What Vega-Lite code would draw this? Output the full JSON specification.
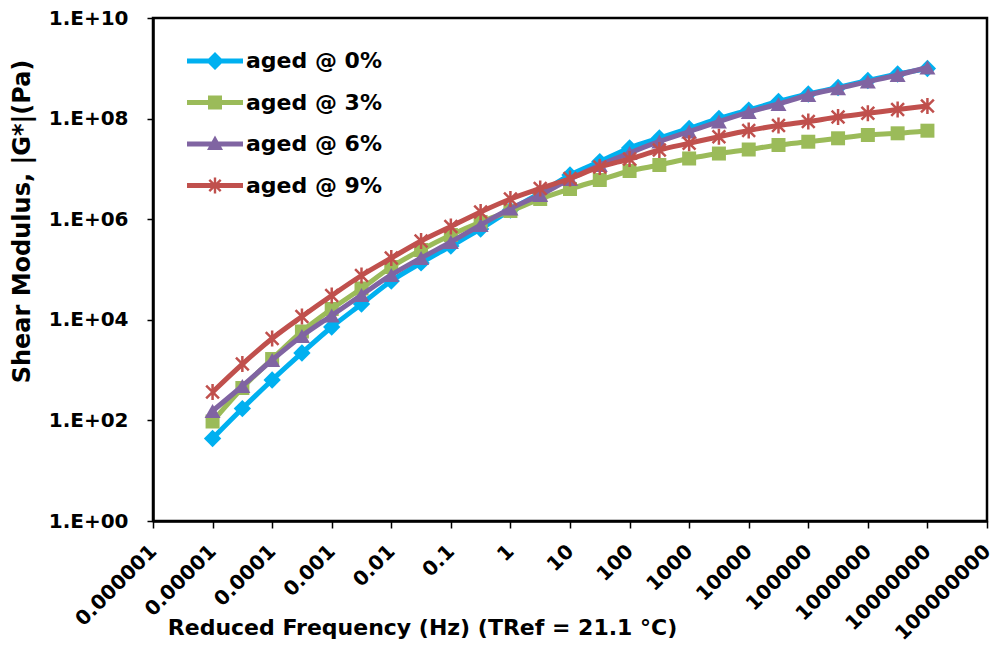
{
  "$schema": "https://vega.github.io/schema/vega-lite/v6.json",
  "autosize": "none",
  "width": 834,
  "height": 503,
  "padding": {"left": 153, "top": 18, "right": 8, "bottom": 124},
  "background": "white",
  "config": {
    "font": "DejaVu Sans",
    "view": {"stroke": "black", "strokeWidth": 2.5},
    "axis": {
      "labelFont": "DejaVu Sans",
      "labelFontWeight": "bold",
      "labelFontSize": 20,
      "labelColor": "black",
      "titleFont": "DejaVu Sans",
      "titleFontWeight": "bold",
      "titleFontSize": 22,
      "titleColor": "black",
      "domainColor": "black",
      "domainWidth": 2.5,
      "tickColor": "black",
      "tickWidth": 1.5,
      "grid": false
    },
    "legend": {
      "labelFont": "DejaVu Sans",
      "labelFontWeight": "bold",
      "labelFontSize": 22,
      "labelColor": "black"
    }
  },
  "data": {
    "values": [
      {"f": 0.00001, "G": 43.7, "s": "aged @ 0%"},
      {"f": 0.00003162, "G": 172, "s": "aged @ 0%"},
      {"f": 0.0001, "G": 636, "s": "aged @ 0%"},
      {"f": 0.0003162, "G": 2190, "s": "aged @ 0%"},
      {"f": 0.001, "G": 7190, "s": "aged @ 0%"},
      {"f": 0.003162, "G": 20600, "s": "aged @ 0%"},
      {"f": 0.01, "G": 59100, "s": "aged @ 0%"},
      {"f": 0.03162, "G": 135000, "s": "aged @ 0%"},
      {"f": 0.1, "G": 293000, "s": "aged @ 0%"},
      {"f": 0.3162, "G": 639000, "s": "aged @ 0%"},
      {"f": 1, "G": 1520000, "s": "aged @ 0%"},
      {"f": 3.162, "G": 3320000, "s": "aged @ 0%"},
      {"f": 10, "G": 7570000, "s": "aged @ 0%"},
      {"f": 31.62, "G": 14000000, "s": "aged @ 0%"},
      {"f": 100, "G": 26000000, "s": "aged @ 0%"},
      {"f": 316.2, "G": 41100000, "s": "aged @ 0%"},
      {"f": 1000, "G": 63600000, "s": "aged @ 0%"},
      {"f": 3162, "G": 100500000, "s": "aged @ 0%"},
      {"f": 10000, "G": 148000000, "s": "aged @ 0%"},
      {"f": 31620, "G": 219000000, "s": "aged @ 0%"},
      {"f": 100000, "G": 308000000, "s": "aged @ 0%"},
      {"f": 316200, "G": 415000000, "s": "aged @ 0%"},
      {"f": 1000000, "G": 572000000, "s": "aged @ 0%"},
      {"f": 3162000, "G": 770000000, "s": "aged @ 0%"},
      {"f": 10000000, "G": 991000000, "s": "aged @ 0%"},

      {"f": 0.00001, "G": 95.1, "s": "aged @ 3%"},
      {"f": 0.00003162, "G": 441, "s": "aged @ 3%"},
      {"f": 0.0001, "G": 1660, "s": "aged @ 3%"},
      {"f": 0.0003162, "G": 5850, "s": "aged @ 3%"},
      {"f": 0.001, "G": 16400, "s": "aged @ 3%"},
      {"f": 0.003162, "G": 41900, "s": "aged @ 3%"},
      {"f": 0.01, "G": 112000, "s": "aged @ 3%"},
      {"f": 0.03162, "G": 244000, "s": "aged @ 3%"},
      {"f": 0.1, "G": 485000, "s": "aged @ 3%"},
      {"f": 0.3162, "G": 880000, "s": "aged @ 3%"},
      {"f": 1, "G": 1455000, "s": "aged @ 3%"},
      {"f": 3.162, "G": 2520000, "s": "aged @ 3%"},
      {"f": 10, "G": 3980000, "s": "aged @ 3%"},
      {"f": 31.62, "G": 6010000, "s": "aged @ 3%"},
      {"f": 100, "G": 9080000, "s": "aged @ 3%"},
      {"f": 316.2, "G": 11960000, "s": "aged @ 3%"},
      {"f": 1000, "G": 16100000, "s": "aged @ 3%"},
      {"f": 3162, "G": 20200000, "s": "aged @ 3%"},
      {"f": 10000, "G": 24300000, "s": "aged @ 3%"},
      {"f": 31620, "G": 29900000, "s": "aged @ 3%"},
      {"f": 100000, "G": 34700000, "s": "aged @ 3%"},
      {"f": 316200, "G": 40600000, "s": "aged @ 3%"},
      {"f": 1000000, "G": 47200000, "s": "aged @ 3%"},
      {"f": 3162000, "G": 51000000, "s": "aged @ 3%"},
      {"f": 10000000, "G": 57500000, "s": "aged @ 3%"},

      {"f": 0.00001, "G": 154, "s": "aged @ 6%"},
      {"f": 0.00003162, "G": 483, "s": "aged @ 6%"},
      {"f": 0.0001, "G": 1590, "s": "aged @ 6%"},
      {"f": 0.0003162, "G": 4760, "s": "aged @ 6%"},
      {"f": 0.001, "G": 12200, "s": "aged @ 6%"},
      {"f": 0.003162, "G": 31100, "s": "aged @ 6%"},
      {"f": 0.01, "G": 77800, "s": "aged @ 6%"},
      {"f": 0.03162, "G": 169000, "s": "aged @ 6%"},
      {"f": 0.1, "G": 352000, "s": "aged @ 6%"},
      {"f": 0.3162, "G": 767000, "s": "aged @ 6%"},
      {"f": 1, "G": 1630000, "s": "aged @ 6%"},
      {"f": 3.162, "G": 3030000, "s": "aged @ 6%"},
      {"f": 10, "G": 6300000, "s": "aged @ 6%"},
      {"f": 31.62, "G": 11960000, "s": "aged @ 6%"},
      {"f": 100, "G": 20700000, "s": "aged @ 6%"},
      {"f": 316.2, "G": 35100000, "s": "aged @ 6%"},
      {"f": 1000, "G": 55400000, "s": "aged @ 6%"},
      {"f": 3162, "G": 87500000, "s": "aged @ 6%"},
      {"f": 10000, "G": 135000000, "s": "aged @ 6%"},
      {"f": 31620, "G": 195000000, "s": "aged @ 6%"},
      {"f": 100000, "G": 295000000, "s": "aged @ 6%"},
      {"f": 316200, "G": 400000000, "s": "aged @ 6%"},
      {"f": 1000000, "G": 542000000, "s": "aged @ 6%"},
      {"f": 3162000, "G": 736000000, "s": "aged @ 6%"},
      {"f": 10000000, "G": 1037000000, "s": "aged @ 6%"},

      {"f": 0.00001, "G": 367, "s": "aged @ 9%"},
      {"f": 0.00003162, "G": 1320, "s": "aged @ 9%"},
      {"f": 0.0001, "G": 4250, "s": "aged @ 9%"},
      {"f": 0.0003162, "G": 11640, "s": "aged @ 9%"},
      {"f": 0.001, "G": 30400, "s": "aged @ 9%"},
      {"f": 0.003162, "G": 76000, "s": "aged @ 9%"},
      {"f": 0.01, "G": 169000, "s": "aged @ 9%"},
      {"f": 0.03162, "G": 369000, "s": "aged @ 9%"},
      {"f": 0.1, "G": 716000, "s": "aged @ 9%"},
      {"f": 0.3162, "G": 1390000, "s": "aged @ 9%"},
      {"f": 1, "G": 2520000, "s": "aged @ 9%"},
      {"f": 3.162, "G": 4080000, "s": "aged @ 9%"},
      {"f": 10, "G": 6440000, "s": "aged @ 9%"},
      {"f": 31.62, "G": 10910000, "s": "aged @ 9%"},
      {"f": 100, "G": 15730000, "s": "aged @ 9%"},
      {"f": 316.2, "G": 23800000, "s": "aged @ 9%"},
      {"f": 1000, "G": 32300000, "s": "aged @ 9%"},
      {"f": 3162, "G": 43700000, "s": "aged @ 9%"},
      {"f": 10000, "G": 58000000, "s": "aged @ 9%"},
      {"f": 31620, "G": 72900000, "s": "aged @ 9%"},
      {"f": 100000, "G": 87500000, "s": "aged @ 9%"},
      {"f": 316200, "G": 107600000, "s": "aged @ 9%"},
      {"f": 1000000, "G": 127400000, "s": "aged @ 9%"},
      {"f": 3162000, "G": 151700000, "s": "aged @ 9%"},
      {"f": 10000000, "G": 178000000, "s": "aged @ 9%"}
    ]
  },
  "encoding": {
    "x": {
      "field": "f",
      "type": "quantitative",
      "scale": {"type": "log", "domain": [0.000001, 100000000], "nice": false},
      "axis": {
        "title": "Reduced Frequency (Hz) (TRef = 21.1 °C)",
        "values": [0.000001, 0.00001, 0.0001, 0.001, 0.01, 0.1, 1, 10, 100, 1000, 10000, 100000, 1000000, 10000000, 100000000],
        "format": "~f",
        "labelAngle": -45,
        "labelAlign": "right",
        "labelBaseline": "middle",
        "labelPadding": 20,
        "labelOverlap": false,
        "labelBound": false,
        "labelFlush": false,
        "tickSize": 7,
        "titleX": 269,
        "titleY": 106,
        "titleAlign": "center",
        "titleBaseline": "middle"
      }
    },
    "y": {
      "field": "G",
      "type": "quantitative",
      "scale": {"type": "log", "domain": [1, 10000000000], "nice": false},
      "axis": {
        "title": "Shear Modulus, |G*|(Pa)",
        "titleFontSize": 24,
        "values": [1, 100, 10000, 1000000, 100000000, 10000000000],
        "labelExpr": "'1.E+' + (round(log(datum.value) / LN10) < 10 ? '0' : '') + round(log(datum.value) / LN10)",
        "tickSize": 6,
        "labelPadding": 19,
        "labelFlush": false,
        "titleAngle": -90,
        "titleX": -131,
        "titleY": 203,
        "titleAlign": "center",
        "titleBaseline": "middle"
      }
    },
    "color": {
      "field": "s",
      "type": "nominal",
      "scale": {
        "domain": ["aged @ 0%", "aged @ 3%", "aged @ 6%", "aged @ 9%"],
        "range": ["#00B0F0", "#9BBB59", "#8064A2", "#C0504D"]
      },
      "legend": {
        "title": null,
        "orient": "none",
        "legendX": 51,
        "legendY": 32,
        "padding": 0,
        "symbolSize": 400,
        "labelOffset": 20,
        "rowPadding": 19.5,
        "encode": {
          "symbols": {
            "update": {
              "shape": {"signal": "datum.value === 'aged @ 0%' ? 'M-2.8,-0.25H2.8V0.25H-2.8Z M0,-0.9L0.9,0L0,0.9L-0.9,0Z' : datum.value === 'aged @ 3%' ? 'M-2.8,-0.25H2.8V0.25H-2.8Z M-0.7,-0.7H0.7V0.7H-0.7Z' : datum.value === 'aged @ 6%' ? 'M-2.8,-0.25H2.8V0.25H-2.8Z M0,-0.85L0.8,0.6H-0.8Z' : 'M-2.8,-0.25H2.8V0.25H-2.8Z M-0.12,-0.8H0.12V0.8H-0.12Z M-0.485,-0.655L0.655,0.485L0.485,0.655L-0.655,-0.485Z M-0.655,0.485L0.485,-0.655L0.655,-0.485L-0.485,0.655Z'"},
              "fill": {"scale": "color", "field": "value"},
              "stroke": {"value": "transparent"},
              "strokeWidth": {"value": 0},
              "opacity": {"value": 1}
            }
          }
        }
      }
    }
  },
  "layer": [
    {
      "transform": [{"filter": "datum.s === 'aged @ 0%'"}],
      "mark": {"type": "line", "interpolate": "monotone", "strokeWidth": 5,
               "point": {"shape": "diamond", "size": 300, "filled": true}}
    },
    {
      "transform": [{"filter": "datum.s === 'aged @ 3%'"}],
      "mark": {"type": "line", "interpolate": "monotone", "strokeWidth": 5,
               "point": {"shape": "square", "size": 196, "filled": true}}
    },
    {
      "transform": [{"filter": "datum.s === 'aged @ 6%'"}],
      "mark": {"type": "line", "interpolate": "monotone", "strokeWidth": 5,
               "point": {"shape": "triangle-up", "size": 256, "filled": true}}
    },
    {
      "transform": [{"filter": "datum.s === 'aged @ 9%'"}],
      "mark": {"type": "line", "interpolate": "monotone", "strokeWidth": 5,
               "point": {"shape": "M0,-1V1M-0.8,-0.8L0.8,0.8M-0.8,0.8L0.8,-0.8", "size": 256, "filled": false, "strokeWidth": 2.5}}
    }
  ]
}
